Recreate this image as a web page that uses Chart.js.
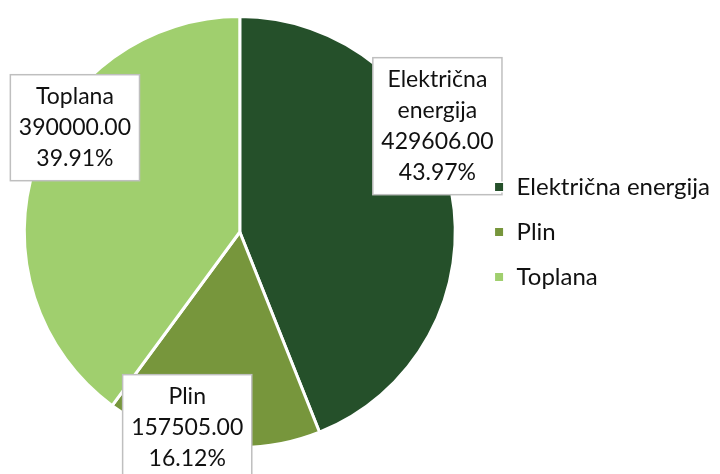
<!DOCTYPE html>
<html>
<head>
<meta charset="utf-8">
<script src="https://cdn.jsdelivr.net/npm/chart.js@4"></script>
<style>
  html, body { margin: 0; padding: 0; background: #ffffff; }
  #wrap { width: 720px; height: 474px; }
</style>
</head>
<body>
<div id="wrap"><canvas id="mychart"></canvas></div>
<script>
const labels = ['Električna energija', 'Plin', 'Toplana'];
const values = [429606.00, 157505.00, 390000.00];
const labelLines = [['Električna', 'energija'], ['Plin'], ['Toplana']];
const colors = ['#25502a', '#77963c', '#a0cf6e'];

const total = values.reduce((a, b) => a + b, 0);
const fontName = 'Lato, "Open Sans", sans-serif';
const legendBox = 11;

// label box centre, as a part of the radius from the pie centre
const boxPlace = [
    { dx: 0.917, dy: -0.491 },
    { dx: -0.244, dy: 0.908 },
    { dx: -0.765, dy: -0.484 }
];

const boxLabels = {
    id: 'boxLabels',
    afterDatasetsDraw(chart) {
        const ctx = chart.ctx;
        const meta = chart.getDatasetMeta(0);
        ctx.save();
        // keep the legend squares visible above the label boxes
        ctx.beginPath();
        ctx.rect(0, 0, chart.width, chart.height);
        (chart.legend.legendHitBoxes || []).forEach(hb => {
            ctx.rect(hb.left, hb.top + (hb.height - legendBox) / 2, legendBox, legendBox);
        });
        ctx.clip('evenodd');

        ctx.font = '23px ' + fontName;
        ctx.textAlign = 'center';
        ctx.textBaseline = 'middle';
        const lineH = 31;
        meta.data.forEach((arc, i) => {
            const lines = labelLines[i].concat([
                values[i].toFixed(2),
                (values[i] / total * 100).toFixed(2) + '%'
            ]);
            const cx = arc.x + boxPlace[i].dx * arc.outerRadius;
            const cy = arc.y + boxPlace[i].dy * arc.outerRadius;
            let w = 0;
            lines.forEach(t => { w = Math.max(w, ctx.measureText(t).width); });
            w += 17;
            const h = lines.length * lineH + 13;
            ctx.fillStyle = '#ffffff';
            ctx.fillRect(cx - w / 2, cy - h / 2, w, h);
            ctx.strokeStyle = '#bfbfbf';
            ctx.lineWidth = 1.5;
            ctx.strokeRect(cx - w / 2, cy - h / 2, w, h);
            ctx.fillStyle = '#111111';
            lines.forEach((t, k) => {
                ctx.fillText(t, cx, cy - h / 2 + 6.5 + lineH * (k + 0.5));
            });
        });
        ctx.restore();
    }
};

const ctx = document.getElementById('mychart').getContext('2d');

const mychart = new Chart(ctx, {
    type: 'pie',
    data: {
        labels: labels,
        datasets: [{
            data: values,
            backgroundColor: colors,
            borderColor: '#ffffff',
            borderWidth: 3
        }]
    },
    options: {
        responsive: true,
        maintainAspectRatio: false,
        animation: false,
        layout: {
            padding: { left: 7, top: 15, bottom: 25, right: 0 }
        },
        plugins: {
            legend: {
                position: 'right',
                labels: {
                    boxWidth: legendBox,
                    boxHeight: legendBox,
                    padding: 21,
                    color: '#111111',
                    font: { family: fontName, size: 24 }
                }
            },
            tooltip: { enabled: false }
        }
    },
    plugins: [boxLabels]
});
</script>
</body>
</html>
